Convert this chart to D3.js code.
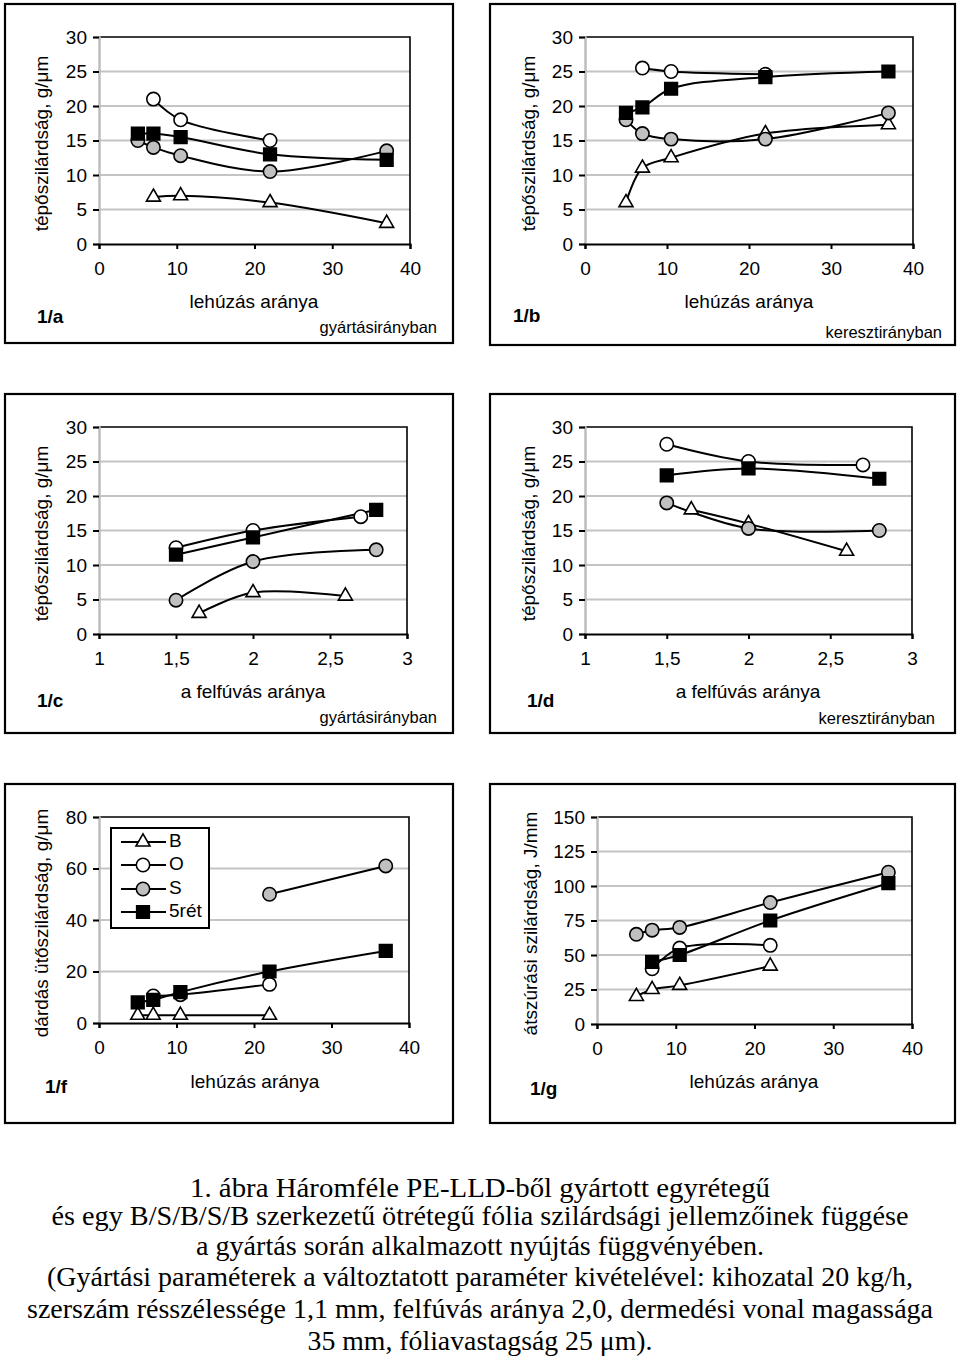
<!DOCTYPE html>
<html><head><meta charset="utf-8">
<script src="https://cdn.jsdelivr.net/npm/d3@7"></script>
<style>body{margin:0;background:#fff}svg{display:block}</style>
</head><body>
<svg id="c" width="960" height="1361"></svg>
<script>
// ---------- DATA ----------
const seriesNames = ["B", "O", "S", "5rét"];
const ticksLehuzas = [0, 10, 20, 30, 40];
const ticksFelfuvas = [1, 1.5, 2, 2.5, 3];
const ticksTep = [0, 5, 10, 15, 20, 25, 30];
const ticksDarda = [0, 20, 40, 60, 80];
const ticksAtszuras = [0, 25, 50, 75, 100, 125, 150];

// 1/a tear strength, machine direction vs draw-down ratio
const a_B = [[7, 6.8], [10.5, 7], [22, 6], [37, 3]];
const a_O = [[7, 21], [10.5, 18], [22, 15]];
const a_S = [[5, 15], [7, 14], [10.5, 12.8], [22, 10.5], [37, 13.5]];
const a_5 = [[5, 16], [7, 16], [10.5, 15.5], [22, 13], [37, 12.2]];
// 1/b tear strength, transverse direction vs draw-down ratio
const b_B = [[5, 6], [7, 11], [10.5, 12.5], [22, 16], [37, 17.3]];
const b_O = [[7, 25.5], [10.5, 25], [22, 24.6]];
const b_S = [[5, 18], [7, 16], [10.5, 15.2], [22, 15.2], [37, 19]];
const b_5 = [[5, 19], [7, 19.8], [10.5, 22.5], [22, 24.2], [37, 25]];
// 1/c tear strength, machine direction vs blow-up ratio
const c_B = [[1.65, 3], [2, 6], [2.6, 5.5]];
const c_O = [[1.5, 12.5], [2, 15], [2.7, 17]];
const c_S = [[1.5, 4.9], [2, 10.5], [2.8, 12.2]];
const c_5 = [[1.5, 11.5], [2, 14], [2.8, 18]];
// 1/d tear strength, transverse direction vs blow-up ratio
const d_B = [[1.65, 18], [2, 16], [2.6, 12]];
const d_O = [[1.5, 27.5], [2, 25], [2.7, 24.5]];
const d_S = [[1.5, 19], [2, 15.3], [2.8, 15]];
const d_5 = [[1.5, 23], [2, 24], [2.8, 22.5]];
// 1/f dart impact vs draw-down ratio
const f_B = [[5, 3], [7, 3], [10.5, 3], [22, 3]];
const f_O = [[7, 10.5], [10.5, 11], [22, 15]];
const f_S = [[22, 50], [37, 61]];
const f_5 = [[5, 8], [7, 9], [10.5, 12], [22, 20], [37, 28]];
// 1/g puncture vs draw-down ratio
const g_B = [[5, 20], [7, 25], [10.5, 28], [22, 42]];
const g_O = [[7, 40], [10.5, 55], [22, 57]];
const g_S = [[5, 65], [7, 68], [10.5, 70], [22, 88], [37, 110]];
const g_5 = [[7, 45], [10.5, 50], [22, 75], [37, 102]];

const captionLines = [
  "1. ábra Háromféle PE-LLD-ből gyártott egyrétegű",
  "és egy B/S/B/S/B szerkezetű ötrétegű fólia szilárdsági jellemzőinek függése",
  "a gyártás során alkalmazott nyújtás függvényében.",
  "(Gyártási paraméterek a változtatott paraméter kivételével: kihozatal 20 kg/h,",
  "szerszám résszélessége 1,1 mm, felfúvás aránya 2,0, dermedési vonal magassága",
  "35 mm, fóliavastagság 25 μm)."
];

// ---------- LAYOUT ----------
const panels = [
  {tag: "1/a", data: [a_B, a_O, a_S, a_5], xd: [0, 40], xt: ticksLehuzas, yd: [0, 30], yt: ticksTep,
   frame: [5, 4, 453, 343], plot: [99, 37, 410, 244], ylab: "tépőszilárdság, g/μm", ylx: 43,
   xlab: "lehúzás aránya", xlx: 254, xly: 308, tagx: 37, tagy: 323, note: "gyártásirányban", nx: 437, ny: 333},
  {tag: "1/b", data: [b_B, b_O, b_S, b_5], xd: [0, 40], xt: ticksLehuzas, yd: [0, 30], yt: ticksTep,
   frame: [490, 4, 955, 345], plot: [585, 37, 913, 244], ylab: "tépőszilárdság, g/μm", ylx: 530,
   xlab: "lehúzás aránya", xlx: 749, xly: 308, tagx: 513, tagy: 322, note: "keresztirányban", nx: 942, ny: 338},
  {tag: "1/c", data: [c_B, c_O, c_S, c_5], xd: [1, 3], xt: ticksFelfuvas, yd: [0, 30], yt: ticksTep,
   frame: [5, 394, 453, 733], plot: [99, 427, 407, 634], ylab: "tépőszilárdság, g/μm", ylx: 43,
   xlab: "a felfúvás aránya", xlx: 253, xly: 698, tagx: 37, tagy: 707, note: "gyártásirányban", nx: 437, ny: 723},
  {tag: "1/d", data: [d_B, d_O, d_S, d_5], xd: [1, 3], xt: ticksFelfuvas, yd: [0, 30], yt: ticksTep,
   frame: [490, 394, 955, 733], plot: [585, 427, 912, 634], ylab: "tépőszilárdság, g/μm", ylx: 530,
   xlab: "a felfúvás aránya", xlx: 748, xly: 698, tagx: 527, tagy: 707, note: "keresztirányban", nx: 935, ny: 724},
  {tag: "1/f", data: [f_B, f_O, f_S, f_5], xd: [0, 40], xt: ticksLehuzas, yd: [0, 80], yt: ticksDarda,
   frame: [5, 784, 453, 1123], plot: [99, 817, 409, 1023], ylab: "dárdás ütőszilárdság, g/μm", ylx: 43,
   xlab: "lehúzás aránya", xlx: 255, xly: 1088, tagx: 45, tagy: 1093, legend: true},
  {tag: "1/g", data: [g_B, g_O, g_S, g_5], xd: [0, 40], xt: ticksLehuzas, yd: [0, 150], yt: ticksAtszuras,
   frame: [490, 784, 955, 1123], plot: [597, 817, 912, 1024], ylab: "átszúrási szilárdság, J/mm", ylx: 532,
   xlab: "lehúzás aránya", xlx: 754, xly: 1088, tagx: 530, tagy: 1095}
];

const SANS = "'Liberation Sans', Arial, sans-serif";
const svg = d3.select("#c");

const markerStyle = {
  "B": {type: d3.symbolTriangle, size: 85, fill: "#fff"},
  "O": {type: d3.symbolCircle, size: 140, fill: "#fff"},
  "S": {type: d3.symbolCircle, size: 140, fill: "#c0c0c0"},
  "5rét": {type: d3.symbolSquare, size: 160, fill: "#000"}
};

function drawMarker(g, name, x, y) {
  const m = markerStyle[name];
  g.append("path").attr("d", d3.symbol().type(m.type).size(m.size)())
    .attr("transform", `translate(${x},${y})`)
    .attr("fill", m.fill).attr("stroke", "#000").attr("stroke-width", 1.6);
}

panels.forEach(p => {
  const [fx0, fy0, fx1, fy1] = p.frame;
  const [px0, py0, px1, py1] = p.plot;
  const g = svg.append("g");
  g.append("rect").attr("x", fx0).attr("y", fy0).attr("width", fx1 - fx0).attr("height", fy1 - fy0)
    .attr("fill", "#fff").attr("stroke", "#000").attr("stroke-width", 2.2);

  const x = d3.scaleLinear().domain(p.xd).range([px0, px1]);
  const y = d3.scaleLinear().domain(p.yd).range([py1, py0]);

  // grid lines
  g.append("g").selectAll("line").data(p.yt.filter(v => v !== p.yd[0] && v !== p.yd[1])).join("line")
    .attr("x1", px0).attr("x2", px1).attr("y1", d => y(d)).attr("y2", d => y(d))
    .attr("stroke", "#c4c4c4").attr("stroke-width", 2);

  // plot border top/right
  g.append("path").attr("d", `M${px0},${py0}H${px1}V${py1}`).attr("fill", "none")
    .attr("stroke", "#000").attr("stroke-width", 1.6);

  // y axis
  const yAx = g.append("g").attr("transform", `translate(${px0},0)`)
    .call(d3.axisLeft(y).tickValues(p.yt).tickSize(6).tickPadding(6).tickFormat(d3.format("d")));
  yAx.select(".domain").attr("stroke", "#bdbdbd").attr("stroke-width", 2.5);
  yAx.selectAll(".tick line").attr("stroke", "#000").attr("stroke-width", 2);
  yAx.selectAll(".tick text").attr("font-family", SANS).attr("font-size", 19).attr("fill", "#000");

  // x axis
  const fmt = v => String(v).replace(".", ",");
  const xAx = g.append("g").attr("transform", `translate(0,${py1})`)
    .call(d3.axisBottom(x).tickValues(p.xt).tickSize(5).tickPadding(13).tickFormat(fmt));
  xAx.select(".domain").attr("stroke", "#000").attr("stroke-width", 2);
  xAx.selectAll(".tick line").attr("stroke", "#000").attr("stroke-width", 2);
  xAx.selectAll(".tick text").attr("font-family", SANS).attr("font-size", 19).attr("fill", "#000");

  // series
  const line = d3.line().x(d => x(d[0])).y(d => y(d[1])).curve(d3.curveCatmullRom.alpha(0.5));
  p.data.forEach(pts => {
    g.append("path").attr("d", line(pts)).attr("fill", "none").attr("stroke", "#000").attr("stroke-width", 2);
  });
  p.data.forEach((pts, i) => {
    pts.forEach(d => drawMarker(g, seriesNames[i], x(d[0]), y(d[1])));
  });

  // labels
  g.append("text").attr("transform", `translate(${p.ylx},${(py0 + py1) / 2 + 3}) rotate(-90)`)
    .attr("text-anchor", "middle").attr("dominant-baseline", "middle")
    .attr("font-family", SANS).attr("font-size", 19).text(p.ylab);
  g.append("text").attr("x", p.xlx).attr("y", p.xly).attr("text-anchor", "middle")
    .attr("font-family", SANS).attr("font-size", 19).text(p.xlab);
  g.append("text").attr("x", p.tagx).attr("y", p.tagy).attr("font-family", SANS)
    .attr("font-size", 19).attr("font-weight", "bold").text(p.tag);
  if (p.note) {
    g.append("text").attr("x", p.nx).attr("y", p.ny).attr("text-anchor", "end")
      .attr("font-family", SANS).attr("font-size", 16.5).text(p.note);
  }

  if (p.legend) {
    const lg = g.append("g");
    lg.append("rect").attr("x", 111).attr("y", 828).attr("width", 98).attr("height", 100)
      .attr("fill", "#fff").attr("stroke", "#000").attr("stroke-width", 2);
    const ly = [842, 865, 889, 912];
    seriesNames.forEach((n, i) => {
      lg.append("line").attr("x1", 121).attr("x2", 166).attr("y1", ly[i]).attr("y2", ly[i])
        .attr("stroke", "#000").attr("stroke-width", 2);
      drawMarker(lg, n, 143, ly[i]);
      lg.append("text").attr("x", 169).attr("y", ly[i]).attr("dominant-baseline", "middle")
        .attr("font-family", SANS).attr("font-size", 19).text(n);
    });
  }
});

// caption
const capY = [1197, 1225, 1255, 1286, 1318, 1350];
const capW = [580, 857, 568, 866, 906, 345];
svg.append("g").selectAll("text").data(captionLines).join("text")
  .attr("x", 480).attr("y", (d, i) => capY[i]).attr("text-anchor", "middle")
  .attr("font-family", "'Liberation Serif', 'Times New Roman', serif").attr("font-size", 27)
  .attr("textLength", (d, i) => capW[i]).attr("lengthAdjust", "spacingAndGlyphs")
  .text(d => d);
</script>
</body></html>
